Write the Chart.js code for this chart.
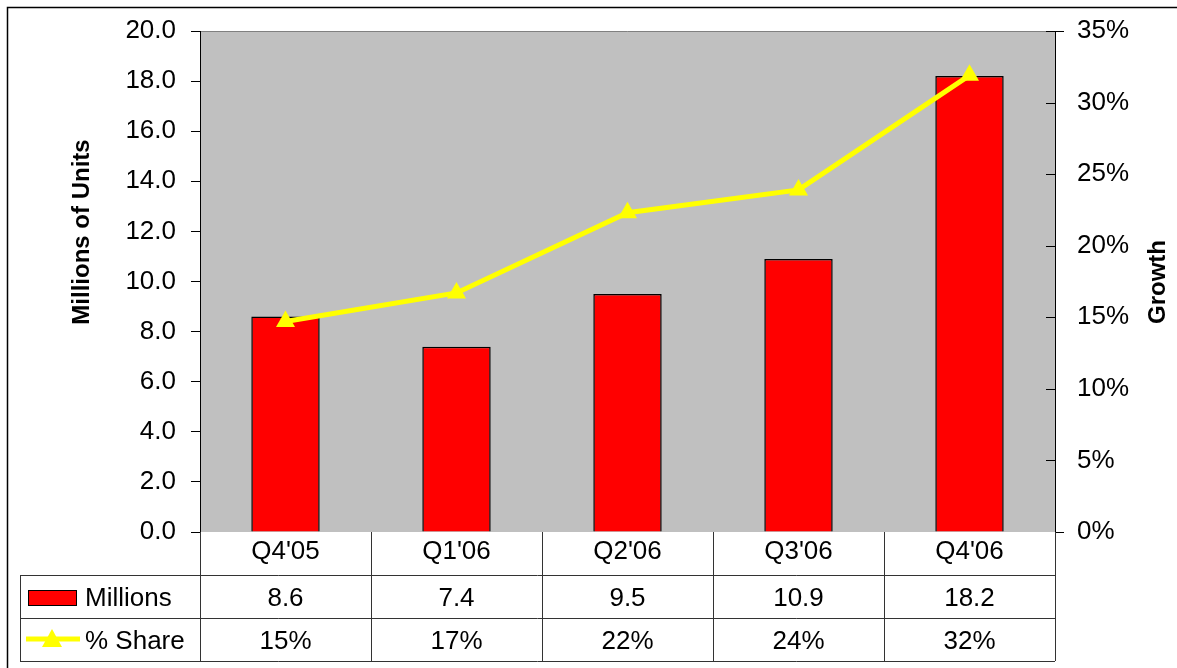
<!DOCTYPE html>
<html>
<head>
<meta charset="utf-8">
<script src="https://cdn.jsdelivr.net/npm/chart.js@4/dist/chart.umd.min.js"></script>
<style>
  html, body { margin: 0; padding: 0; background: #fff; }
  #wrap { position: relative; width: 1177px; height: 668px; }
</style>
</head>
<body>
<div id="wrap"><canvas id="chart"></canvas></div>
<script>
// data
const quarters = ["Q4'05", "Q1'06", "Q2'06", "Q3'06", "Q4'06"];
const millions = [8.6, 7.4, 9.5, 10.9, 18.2];
const shareLine = [14.7, 16.7, 22.3, 23.9, 31.9];
const shareLabels = ['15%', '17%', '22%', '24%', '32%'];

const FONT = '"Liberation Sans", Arial, sans-serif';
const FS = 26;
const ROW1 = 575, ROW2 = 618, ROW3 = 661, LEG_LEFT = 20;

// plot background, frame, titles and data table
const extras = {
  id: 'extras',
  beforeDraw(chart) {
    const { ctx, chartArea: a } = chart;
    ctx.save();
    ctx.fillStyle = '#fff';
    ctx.fillRect(0, 0, chart.width, chart.height);
    ctx.fillStyle = '#c0c0c0';
    ctx.fillRect(a.left, a.top, a.right - a.left, a.bottom - a.top);
    ctx.strokeStyle = '#808080';
    ctx.lineWidth = 1;
    ctx.beginPath();
    ctx.moveTo(a.left, a.top + 0.5);
    ctx.lineTo(a.right, a.top + 0.5);
    ctx.stroke();
    ctx.restore();
  },
  afterDraw(chart) {
    const { ctx, chartArea: a, scales } = chart;
    const x = scales.x, y1 = scales.y1;
    ctx.save();

    // outer frame (only left and top visible)
    ctx.strokeStyle = '#000';
    ctx.lineWidth = 1.5;
    ctx.beginPath();
    ctx.moveTo(7.5, chart.height);
    ctx.lineTo(7.5, 7.5);
    ctx.lineTo(chart.width, 7.5);
    ctx.stroke();

    // right axis ticks
    ctx.strokeStyle = '#000';
    ctx.lineWidth = 1;
    y1.ticks.forEach(t => {
      const py = Math.round(y1.getPixelForValue(t.value)) + 0.5;
      ctx.beginPath();
      if (t.value === 0) { ctx.moveTo(a.right, py); ctx.lineTo(a.right + 9, py); }
      else if (t.value === 35) { ctx.moveTo(a.right - 9, py); ctx.lineTo(a.right + 9, py); }
      else { ctx.moveTo(a.right - 9, py); ctx.lineTo(a.right, py); }
      ctx.stroke();
    });

    // axis titles
    ctx.fillStyle = '#000';
    ctx.font = 'bold 24px ' + FONT;
    ctx.textAlign = 'center';
    ctx.textBaseline = 'middle';
    ctx.save();
    ctx.translate(82, 232);
    ctx.rotate(-Math.PI / 2);
    ctx.fillText('Millions of Units', 0, 0);
    ctx.restore();
    ctx.save();
    ctx.translate(1158, 282);
    ctx.rotate(-Math.PI / 2);
    ctx.fillText('Growth', 0, 0);
    ctx.restore();

    // data table lines
    const n = quarters.length;
    const step = (a.right - a.left) / n;
    ctx.strokeStyle = '#333';
    ctx.lineWidth = 1;
    ctx.beginPath();
    for (let i = 0; i <= n; i++) {
      const px = Math.round(a.left + i * step) + 0.5;
      ctx.moveTo(px, a.bottom);
      ctx.lineTo(px, ROW3);
    }
    [ROW1, ROW2, ROW3].forEach(ry => {
      ctx.moveTo(LEG_LEFT, ry + 0.5);
      ctx.lineTo(a.right, ry + 0.5);
    });
    ctx.moveTo(LEG_LEFT + 0.5, ROW1);
    ctx.lineTo(LEG_LEFT + 0.5, ROW3);
    ctx.stroke();

    // table values
    ctx.font = FS + 'px ' + FONT;
    ctx.fillStyle = '#000';
    ctx.textAlign = 'center';
    quarters.forEach((q, i) => {
      const cx = x.getPixelForValue(i);
      ctx.fillText(millions[i].toFixed(1), cx, (ROW1 + ROW2) / 2 + 2);
      ctx.fillText(shareLabels[i], cx, (ROW2 + ROW3) / 2 + 2);
    });

    // legend keys
    ctx.fillStyle = '#ff0000';
    ctx.fillRect(28, 590, 49, 16);
    ctx.strokeStyle = '#000';
    ctx.strokeRect(28.5, 590.5, 48, 15);
    ctx.strokeStyle = '#ffff00';
    ctx.lineWidth = 5;
    ctx.beginPath();
    ctx.moveTo(26, 639);
    ctx.lineTo(80, 639);
    ctx.stroke();
    ctx.fillStyle = '#ffff00';
    ctx.beginPath();
    ctx.moveTo(52, 629);
    ctx.lineTo(62, 647);
    ctx.lineTo(42, 647);
    ctx.closePath();
    ctx.fill();

    ctx.fillStyle = '#000';
    ctx.textAlign = 'left';
    ctx.fillText('Millions', 85, (ROW1 + ROW2) / 2 + 2);
    ctx.fillText('% Share', 85, (ROW2 + ROW3) / 2 + 2);
    ctx.restore();
  }
};

// let the plot box sit where the reference has it, labels may overhang
const noPad = s => { s.paddingTop = 0; s.paddingBottom = 0; };

new Chart(document.getElementById('chart'), {
  data: {
    labels: quarters,
    datasets: [
      {
        type: 'line',
        label: '% Share',
        data: shareLine,
        yAxisID: 'y1',
        borderColor: '#ffff00',
        backgroundColor: '#ffff00',
        borderWidth: 5,
        tension: 0,
        pointStyle: 'triangle',
        pointRadius: 11,
        pointBorderWidth: 0,
        order: 0,
      },
      {
        type: 'bar',
        label: 'Millions',
        data: millions,
        yAxisID: 'y',
        backgroundColor: '#ff0000',
        borderColor: '#000',
        borderWidth: 1.5,
        barPercentage: 0.4,
        categoryPercentage: 1,
        order: 1,
      },
    ],
  },
  options: {
    responsive: true,
    maintainAspectRatio: false,
    animation: false,
    layout: { padding: { top: 31, left: 0, right: 0, bottom: 0 } },
    plugins: { legend: { display: false }, tooltip: { enabled: false } },
    scales: {
      x: {
        offset: true,
        grid: { display: false },
        border: { display: false },
        ticks: { color: '#000', font: { family: FONT, size: FS }, padding: -4 },
        afterFit: s => { s.height = 668 - 532; },
      },
      y: {
        position: 'left',
        min: 0, max: 20,
        grid: { drawOnChartArea: false, tickLength: 9, color: '#000' },
        border: { display: true, color: '#000', width: 1 },
        ticks: {
          stepSize: 2, color: '#000', padding: 15,
          font: { family: FONT, size: FS },
          callback: v => v.toFixed(1),
        },
        afterFit: s => { s.width = 200; noPad(s); },
      },
      y1: {
        position: 'right',
        min: 0, max: 35,
        grid: { drawOnChartArea: false, drawTicks: false, tickLength: 9 },
        border: { display: true, color: '#000', width: 1 },
        ticks: {
          stepSize: 5, color: '#000', padding: 22,
          font: { family: FONT, size: FS },
          callback: v => v + '%',
        },
        afterFit: s => { s.width = 1177 - 1055; noPad(s); },
      },
    },
  },
  plugins: [extras],
});
</script>
</body>
</html>
